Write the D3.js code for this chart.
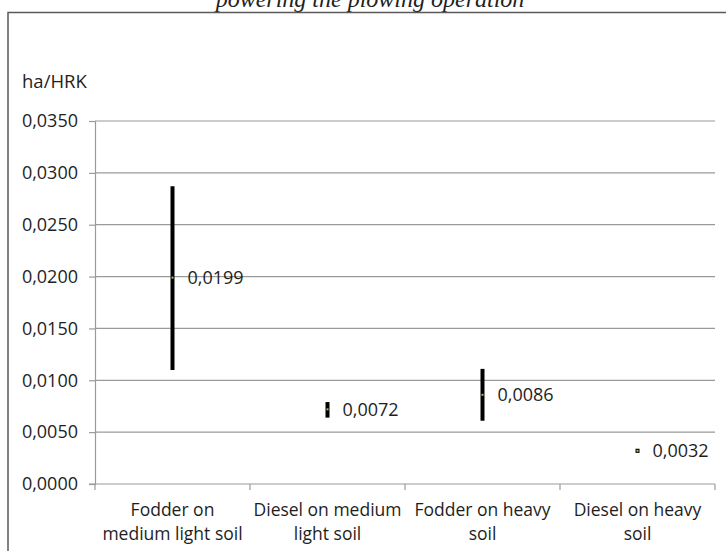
<!DOCTYPE html>
<html>
<head>
<meta charset="utf-8">
<script src="https://cdn.jsdelivr.net/npm/d3@7"></script>
<style>
  html, body { margin: 0; padding: 0; background: #fff; }
  svg { display: block; }
  .lbl { font-family: "Open Sans", "Noto Sans", sans-serif; fill: #1e1e1e; }
</style>
</head>
<body>
<svg id="chart" width="726" height="551"></svg>
<script>
// ---- data ----
const categories = [
  "Fodder on medium light soil",
  "Diesel on medium light soil",
  "Fodder on heavy soil",
  "Diesel on heavy soil"
];
const categoryLines = [
  ["Fodder on", "medium light soil"],
  ["Diesel on medium", "light soil"],
  ["Fodder on heavy", "soil"],
  ["Diesel on heavy", "soil"]
];
const highValues = [0.0287, 0.0079, 0.0111, 0.0034];
const lowValues  = [0.0110, 0.0064, 0.0061, 0.0030];
const midValues  = [0.0199, 0.0072, 0.0086, 0.0032];
const yTicks = [0, 0.005, 0.01, 0.015, 0.02, 0.025, 0.03, 0.035];
const yLabel = "ha/HRK";
const titleText = "powering the plowing operation";

// ---- layout ----
const svg = d3.select("#chart");
const W = 726, H = 551;
const plot = { left: 95, right: 715, top: 121, bottom: 484 };
const fmt = v => d3.format(".4f")(v).replace(".", ",");

const x = d3.scaleBand().domain(categories).range([plot.left, plot.right]).paddingInner(0).paddingOuter(0);
const y = d3.scaleLinear().domain([0, 0.035]).range([plot.bottom, plot.top]);

// title (cut off at top, as in the reference)
svg.append("text")
  .attr("x", 370).attr("y", 7)
  .attr("text-anchor", "middle")
  .style("font-family", "'Liberation Serif', 'DejaVu Serif', serif")
  .style("font-style", "italic")
  .style("font-size", "24px")
  .style("fill", "#222")
  .text(titleText);

// outer frame (top and left edges visible)
svg.append("path")
  .attr("d", `M8,${H} L8,12.5 L${W},12.5`)
  .attr("fill", "none")
  .attr("stroke", "#5a5a5a")
  .attr("stroke-width", 1.5);

// y-axis unit label
svg.append("text").attr("class", "lbl")
  .attr("x", 22).attr("y", 88)
  .style("font-size", "18.5px")
  .text(yLabel);

// gridlines
svg.append("g")
  .selectAll("line")
  .data(yTicks.filter(t => t > 0))
  .join("line")
  .attr("x1", plot.left).attr("x2", plot.right)
  .attr("y1", d => y(d)).attr("y2", d => y(d))
  .attr("stroke", "#9a9a9a").attr("stroke-width", 1.2);

// y axis
const yAxis = svg.append("g")
  .attr("transform", `translate(${plot.left},0)`)
  .call(d3.axisLeft(y).tickValues(yTicks).tickFormat(fmt).tickSize(6).tickPadding(11));
yAxis.select(".domain").attr("stroke", "#9a9a9a").attr("stroke-width", 1.2);
yAxis.selectAll(".tick line").attr("stroke", "#9a9a9a").attr("stroke-width", 1.2);
yAxis.selectAll(".tick text").attr("class", "lbl")
  .style("font-size", "18px").attr("fill", "#1e1e1e");

// x axis
const xAxis = svg.append("g")
  .attr("transform", `translate(0,${plot.bottom})`)
  .call(d3.axisBottom(x).tickSize(0).tickFormat(""));
xAxis.select(".domain").remove();
svg.append("line")
  .attr("x1", plot.left - 6).attr("x2", plot.right)
  .attr("y1", plot.bottom).attr("y2", plot.bottom)
  .attr("stroke", "#9a9a9a").attr("stroke-width", 1.2);
// category boundary ticks
const bounds = categories.map(c => x(c)).concat([x(categories[categories.length - 1]) + x.bandwidth()]);
svg.append("g").selectAll("line").data(bounds).join("line")
  .attr("x1", d => d).attr("x2", d => d)
  .attr("y1", plot.bottom).attr("y2", plot.bottom + 6)
  .attr("stroke", "#9a9a9a").attr("stroke-width", 1.2);

// category labels
const catG = svg.append("g").selectAll("text").data(categories).join("text")
  .attr("class", "lbl")
  .attr("text-anchor", "middle")
  .style("font-size", "17.5px")
  .attr("x", d => x(d) + x.bandwidth() / 2)
  .attr("y", 516);
catG.each(function(d, i) {
  const t = d3.select(this);
  categoryLines[i].forEach((line, j) => {
    t.append("tspan")
      .attr("x", x(d) + x.bandwidth() / 2)
      .attr("dy", j === 0 ? 0 : 24)
      .text(line);
  });
});

// high-low bars
const cx = d => x(d) + x.bandwidth() / 2;
svg.append("g").selectAll("line").data(categories).join("line")
  .attr("x1", d => cx(d)).attr("x2", d => cx(d))
  .attr("y1", (d, i) => y(highValues[i]))
  .attr("y2", (d, i) => y(lowValues[i]))
  .attr("stroke", "#000").attr("stroke-width", 4);

// mid markers
svg.append("g").selectAll("rect").data(categories).join("rect")
  .attr("x", d => cx(d) - 1)
  .attr("y", (d, i) => y(midValues[i]) - 1)
  .attr("width", 2).attr("height", 2)
  .attr("fill", "#a6c04a");

// value labels
svg.append("g").selectAll("text").data(categories).join("text")
  .attr("class", "lbl")
  .style("font-size", "18px")
  .attr("x", d => cx(d) + 15)
  .attr("y", (d, i) => y(midValues[i]))
  .attr("dy", "0.35em")
  .text((d, i) => fmt(midValues[i]));
</script>
</body>
</html>
